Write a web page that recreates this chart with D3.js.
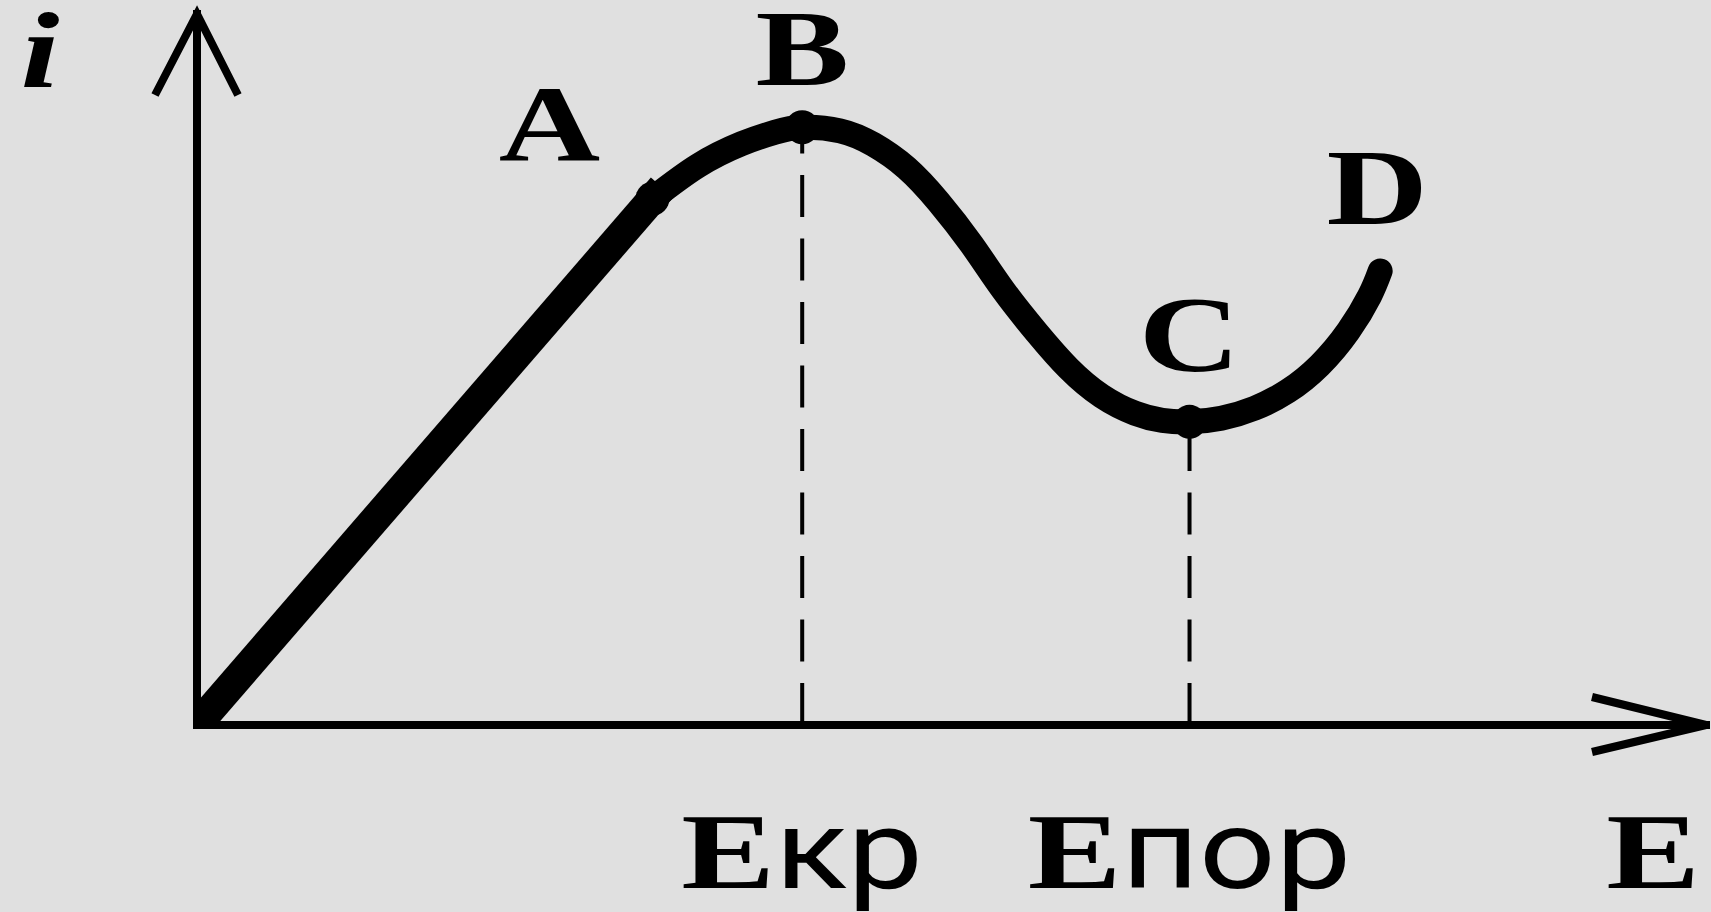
<!DOCTYPE html>
<html><head><meta charset="utf-8">
<script src="https://cdn.jsdelivr.net/npm/d3@7"></script>
<style>
html,body{margin:0;padding:0;background:#e0e0e0;overflow:hidden}
</style>
</head><body><svg id="c" width="1711" height="912"></svg>
<script>
// ---- data (arbitrary units: E along x, i along y) ----
const straightE = [0.00, 3.01];
const straightI = [0.00, 7.36];
const curveE = [3.01, 3.31, 3.60, 3.82, 4.00, 4.25, 4.47, 4.69, 4.90, 5.12, 5.33, 5.55, 5.76, 5.98, 6.20, 6.38, 6.56, 6.77, 6.99, 7.21, 7.42, 7.61, 7.75, 7.82];
const curveI = [7.36, 7.82, 8.13, 8.29, 8.36, 8.31, 8.12, 7.79, 7.32, 6.72, 6.08, 5.49, 4.99, 4.60, 4.36, 4.26, 4.24, 4.29, 4.43, 4.67, 5.03, 5.51, 6.00, 6.35];
const pointNames = ["A", "B", "C"];
const pointE = [3.01, 4.00, 6.56];
const pointI = [7.36, 8.36, 4.24];
const endName = "D";
const tickNames = ["Екр", "Епор"];   // placed at pointE[1] (B) and pointE[2] (C)
const xTitle = "E";
const yTitle = "i";

// ---- layout / style ----
const W = 1711, H = 912;
const x = d3.scaleLinear().domain([0, 10]).range([197, 1710]);
const y = d3.scaleLinear().domain([0, 10]).range([725, 10]);
const svg = d3.select("#c");
svg.append("rect").attr("width", W).attr("height", H).attr("fill", "#e0e0e0");
const ink = "#000";
const SERIF = "Liberation Serif";
const SANS = "Roboto";
const SXS = 1.3;   // horizontal stretch of serif lettering
const SXN = 1.2;   // horizontal stretch of sans lettering
const axisW = 8;

svg.append("clipPath").attr("id", "plot")
  .append("rect").attr("x", x(0) - axisW/2).attr("y", 0)
  .attr("width", W).attr("height", y(0) + axisW/2);

// dashed verticals at B and C
[1, 2].forEach(k => {
  svg.append("line")
    .attr("x1", x(pointE[k])).attr("y1", y(0))
    .attr("x2", x(pointE[k])).attr("y2", y(pointI[k]))
    .attr("stroke", ink).attr("stroke-width", 4).attr("stroke-dasharray", "42,21.5");
});

// straight segment O–A
const straight = straightE.map((e, k) => [e, straightI[k]]);
svg.append("path").datum(straight).attr("clip-path", "url(#plot)")
  .attr("d", d3.line().x(d => x(d[0])).y(d => y(d[1])))
  .attr("fill", "none").attr("stroke", ink).attr("stroke-width", 30).attr("stroke-linecap", "square");

// curve A–B–C–D
const curve = curveE.map((e, k) => [e, curveI[k]]);
svg.append("path").datum(curve)
  .attr("d", d3.line().curve(d3.curveNatural).x(d => x(d[0])).y(d => y(d[1])))
  .attr("fill", "none").attr("stroke", ink).attr("stroke-width", 25)
  .attr("stroke-linecap", "round").attr("stroke-linejoin", "round");

// axes with open arrowheads
svg.append("line").attr("x1", x(0)).attr("y1", y(0) + axisW/2).attr("x2", x(0)).attr("y2", y(10))
  .attr("stroke", ink).attr("stroke-width", axisW);
svg.append("line").attr("x1", x(0) - axisW/2).attr("y1", y(0)).attr("x2", x(10)).attr("y2", y(0))
  .attr("stroke", ink).attr("stroke-width", axisW);
const yTip = [x(0), y(10)];
svg.append("path")
  .attr("d", `M${yTip[0]-42},${yTip[1]+85} L${yTip[0]},${yTip[1]+4} L${yTip[0]+41},${yTip[1]+85}`)
  .attr("fill", "none").attr("stroke", ink).attr("stroke-width", axisW).attr("stroke-linejoin", "miter");
const xTip = [x(10), y(0)];
svg.append("path")
  .attr("d", `M${xTip[0]-118},${xTip[1]-28} L${xTip[0]-4},${xTip[1]} L${xTip[0]-118},${xTip[1]+27}`)
  .attr("fill", "none").attr("stroke", ink).attr("stroke-width", axisW).attr("stroke-linejoin", "miter");

// knots
svg.selectAll("circle.knot").data(pointE).join("circle").attr("class", "knot")
  .attr("cx", d => x(d)).attr("cy", (d, k) => y(pointI[k])).attr("r", 17).attr("fill", ink);

// letter labels
const labelOffsets = { A: [-103, -38], B: [0, -42], C: [0, -51], D: [-3, -47] };
function letter(txt, px, py, italic) {
  svg.append("text")
    .attr("transform", `translate(${px},${py}) scale(${SXS},1)`)
    .style("font-family", SERIF).style("font-weight", "bold").style("font-size", "108px")
    .style("font-style", italic ? "italic" : "normal")
    .attr("text-anchor", "middle").attr("fill", ink).text(txt);
}
pointNames.forEach((n, k) => letter(n, x(pointE[k]) + labelOffsets[n][0], y(pointI[k]) + labelOffsets[n][1]));
const last = curve[curve.length - 1];
letter(endName, x(last[0]) + labelOffsets.D[0], y(last[1]) + labelOffsets.D[1]);

// tick labels under the axis: bold serif Е + regular sans suffix
const tickBase = 888;
tickNames.forEach((t, k) => {
  const g = svg.append("g").attr("transform", `translate(${x(pointE[k + 1])},${tickBase})`);
  const e = g.append("text").style("font-family", SERIF).style("font-weight", "bold").style("font-size", "108px")
    .attr("fill", ink).text(t[0]);
  const s = g.append("text").style("font-family", SANS).style("font-weight", "normal").style("font-size", "112px")
    .attr("fill", ink).text(t.slice(1));
  const w1 = e.node().getComputedTextLength() * SXS;
  const w2 = s.node().getComputedTextLength() * SXN;
  const x0 = -(w1 + w2) / 2;
  e.attr("transform", `translate(${x0},0) scale(${SXS},1)`);
  s.attr("transform", `translate(${x0 + w1},0) scale(${SXN},1)`);
});
// axis titles
letter(xTitle, 1653, tickBase);
letter(yTitle, 40, 87, true);
</script></body></html>
